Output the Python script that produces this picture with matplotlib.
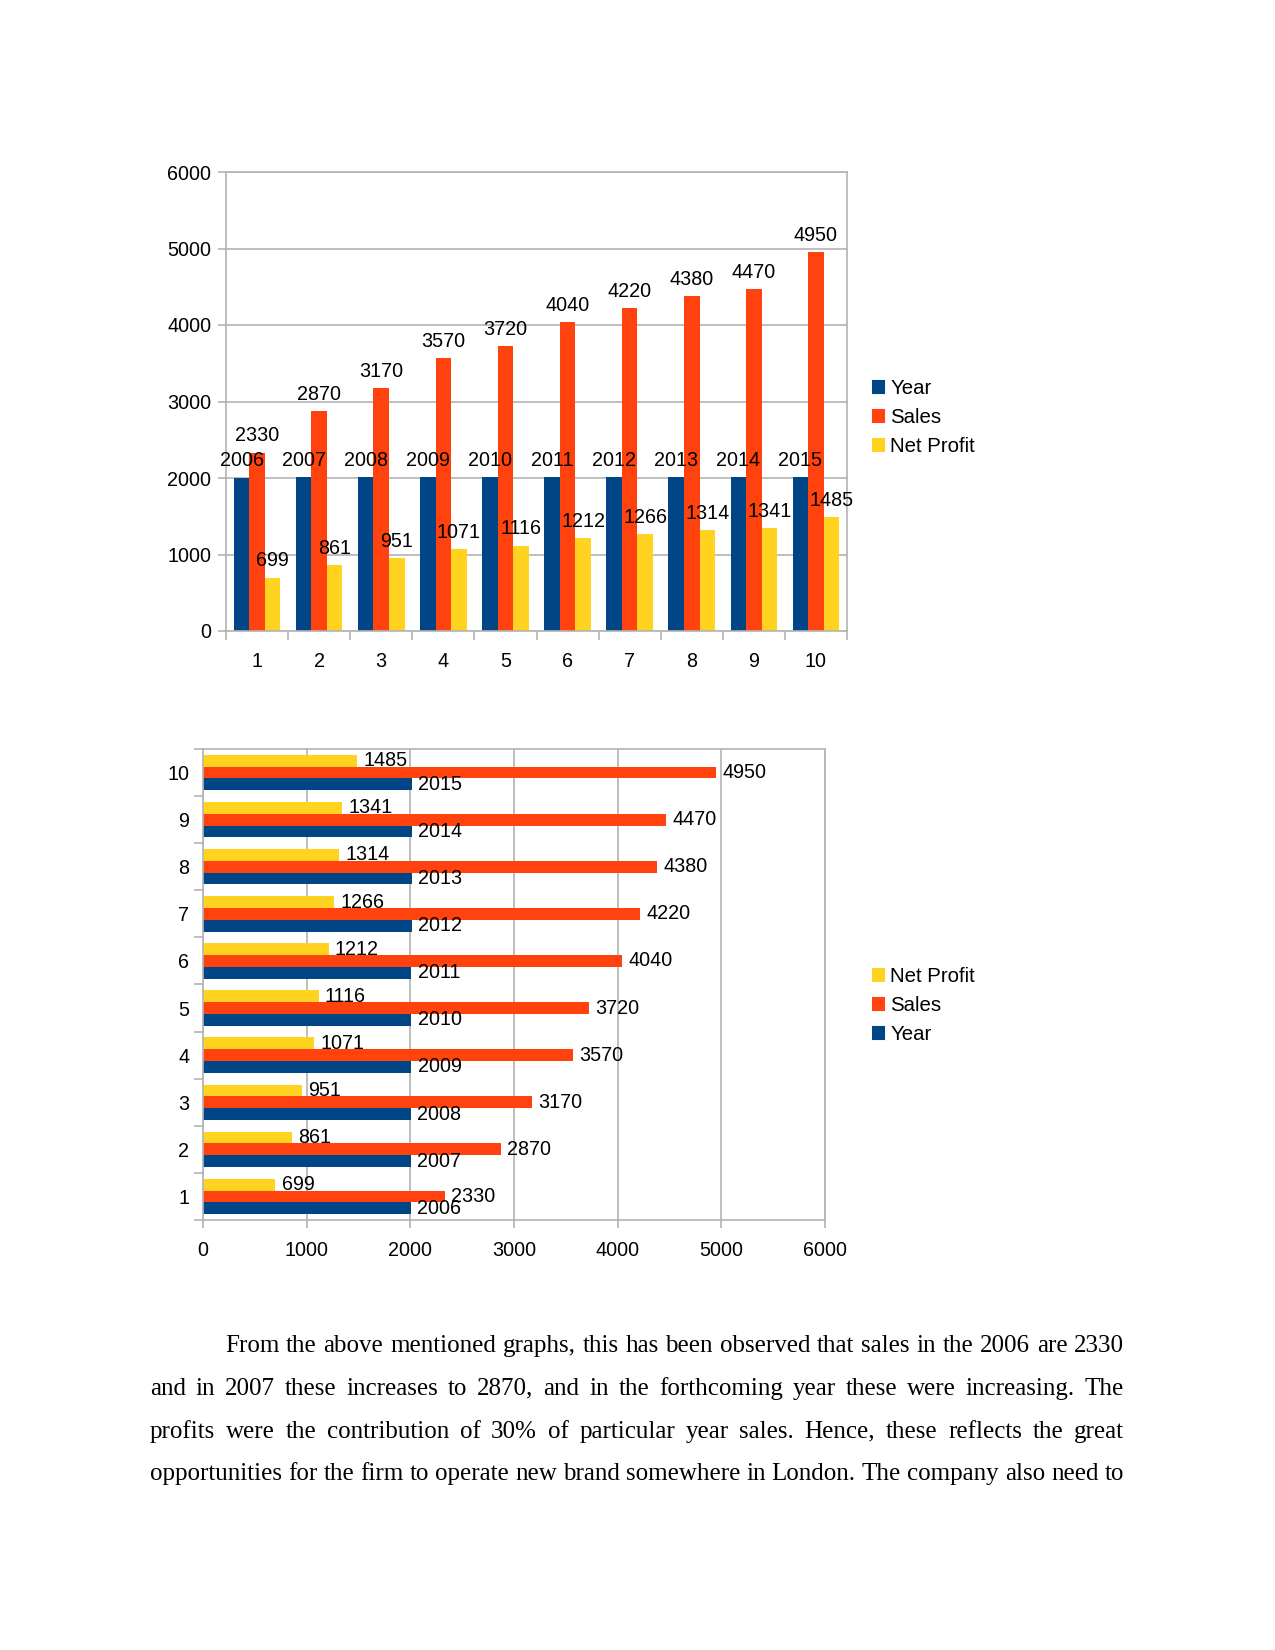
import matplotlib
matplotlib.use('Agg')
import matplotlib.pyplot as plt
from matplotlib.patches import Patch
import numpy as np

# data
categories = [1, 2, 3, 4, 5, 6, 7, 8, 9, 10]
years = [2006, 2007, 2008, 2009, 2010, 2011, 2012, 2013, 2014, 2015]
sales = [2330, 2870, 3170, 3570, 3720, 4040, 4220, 4380, 4470, 4950]
net_profit = [699, 861, 951, 1071, 1116, 1212, 1266, 1314, 1341, 1485]
series_names = ['Year', 'Sales', 'Net Profit']
value_ticks = [0, 1000, 2000, 3000, 4000, 5000, 6000]

paragraph_lines = [
    "From the above mentioned graphs, this has been observed that sales in the 2006 are 2330",
    "and in 2007 these increases to 2870, and in the forthcoming year these were increasing. The",
    "profits were the contribution of 30% of particular year sales. Hence, these reflects the great",
    "opportunities for the firm to operate new brand somewhere in London. The company also need to",
]

colors = ['#004586', '#ff420e', '#ffd320']
grid_c = '#b3b3b3'

plt.rcParams['font.family'] = 'Liberation Sans'
plt.rcParams['font.size'] = 9.5

W, H = 1275, 1650
fig = plt.figure(figsize=(W / 150, H / 150), dpi=150)


def px_box(left, top, right, bottom):
    return [left / W, 1 - bottom / H, (right - left) / W, (bottom - top) / H]


def style_axes(ax):
    for s in ax.spines.values():
        s.set_color(grid_c)
        s.set_linewidth(0.8)
    ax.tick_params(which='both', color=grid_c, width=0.8, labelcolor='black')
    ax.set_axisbelow(True)


def add_legend(order, top_px):
    fig.legend(handles=[Patch(color=colors[i], label=series_names[i]) for i in order],
               loc='upper left', bbox_to_anchor=(873 / W, 1 - top_px / H), frameon=False,
               handlelength=0.55, handleheight=0.55, handletextpad=0.3,
               labelspacing=0.5, borderpad=0, borderaxespad=0, fontsize=9.8)


series = [years, sales, net_profit]
pos = np.array(categories, dtype=float)
bw = 0.25

# --- vertical column chart ---
ax1 = fig.add_axes(px_box(226, 172, 847, 631))
style_axes(ax1)
for i, vals in enumerate(series):
    bars = ax1.bar(pos + (i - 1) * bw, vals, bw, color=colors[i], label=series_names[i], zorder=2)
    ax1.bar_label(bars, padding=3.5, fontsize=9.5)
ax1.set_xlim(0.5, 10.5)
ax1.set_ylim(0, 6000)
ax1.set_yticks(value_ticks)
ax1.yaxis.grid(True, color=grid_c, linewidth=0.8)
ax1.set_xticks(pos)
ax1.set_xticklabels([str(c) for c in categories])
ax1.set_xticks(np.arange(0.5, 11, 1.0), minor=True)
ax1.tick_params(axis='x', which='major', length=0, pad=10)
ax1.tick_params(axis='x', which='minor', length=4.5)
ax1.tick_params(axis='y', length=4, pad=3)
add_legend((0, 1, 2), 379)

# --- horizontal bar chart ---
ax2 = fig.add_axes(px_box(203, 749, 825, 1220))
style_axes(ax2)
for i, vals in enumerate(series):
    bars = ax2.barh(pos + (i - 1) * bw, vals, bw, color=colors[i], label=series_names[i], zorder=2)
    ax2.bar_label(bars, padding=3, fontsize=9.5)
ax2.set_ylim(0.5, 10.5)
ax2.set_xlim(0, 6000)
ax2.set_xticks(value_ticks)
ax2.xaxis.grid(True, color=grid_c, linewidth=0.8)
ax2.set_yticks(pos)
ax2.set_yticklabels([str(c) for c in categories])
ax2.set_yticks(np.arange(0.5, 11, 1.0), minor=True)
ax2.tick_params(axis='y', which='major', length=0, pad=6.5)
ax2.tick_params(axis='y', which='minor', length=4.5)
ax2.tick_params(axis='x', length=4, pad=6)
add_legend((2, 1, 0), 967)

# --- justified paragraph below the charts ---
renderer = fig.canvas.get_renderer()
left_px, right_px, indent_px = 150, 1124, 225
baseline0, line_step = 1352, 42.8
for k, line in enumerate(paragraph_lines):
    words = line.split(' ')
    y = 1 - (baseline0 + k * line_step) / H
    texts = [fig.text(0, y, w, family='Liberation Serif', fontsize=12, va='baseline') for w in words]
    widths = [t.get_window_extent(renderer).width for t in texts]
    x0 = indent_px if k == 0 else left_px
    gap = (right_px - x0 - sum(widths)) / (len(words) - 1)
    x = x0
    for t, w in zip(texts, widths):
        t.set_x(x / W)
        x += w + gap

fig.savefig('out.png', dpi=150)
